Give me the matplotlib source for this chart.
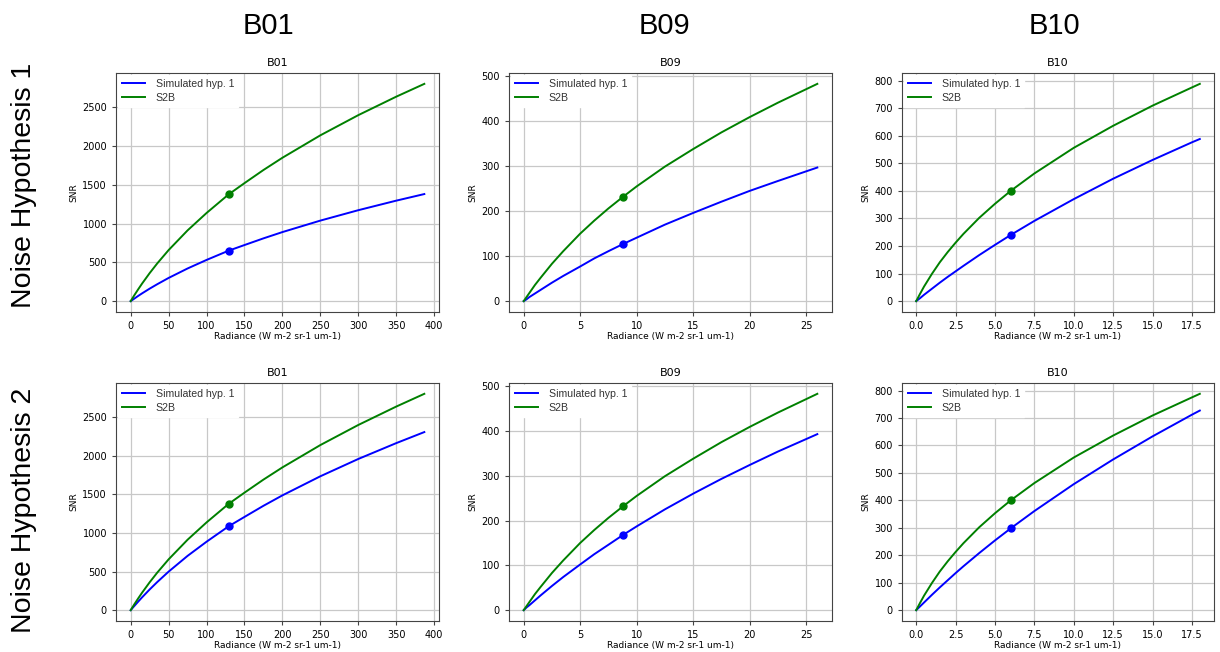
import matplotlib.pyplot as plt

# x samples (radiance) per band
x_b01 = [0, 2.5, 5, 10, 15, 25, 35, 50, 75, 100, 129, 150, 175, 200, 250, 300, 350, 387]
x_b09 = [0, 0.25, 0.5, 1, 1.5, 2.5, 3.5, 5, 6.25, 7.5, 8.8, 10, 12.5, 15, 17.5, 20, 22.5, 26]
x_b10 = [0, 0.25, 0.5, 1, 1.5, 2, 2.5, 3, 4, 5, 6, 7.5, 10, 12.5, 15, 17.5, 18]

# S2B reference SNR
s2b_b01 = [0, 40, 79, 154, 226, 361, 486, 658, 912, 1136, 1375, 1521, 1690, 1848, 2137, 2397, 2635, 2800]
s2b_b09 = [0, 9, 18, 36, 52, 83, 111, 150, 179, 206, 232, 255, 299, 338, 375, 409, 441, 483]
s2b_b10 = [0, 27, 53, 99, 141, 178, 212, 244, 302, 353, 400, 463, 556, 636, 709, 775, 788]

# simulated SNR, hypothesis 1
h1_b01 = [0, 17, 34, 68, 100, 161, 218, 299, 421, 531, 650, 723, 809, 890, 1038, 1172, 1295, 1380]
h1_b09 = [0, 4, 9, 17, 25, 41, 56, 77, 95, 111, 127, 141, 170, 196, 221, 245, 267, 297]
h1_b10 = [0, 11, 23, 45, 67, 88, 108, 128, 167, 204, 240, 291, 370, 444, 512, 576, 588]

# simulated SNR, hypothesis 2
h2_b01 = [0, 29, 57, 112, 166, 268, 364, 499, 703, 886, 1085, 1207, 1351, 1486, 1733, 1957, 2162, 2305]
h2_b09 = [0, 6, 11, 22, 33, 54, 74, 102, 125, 146, 168, 187, 225, 260, 293, 324, 354, 393]
h2_b10 = [0, 14, 28, 56, 83, 109, 135, 160, 208, 254, 298, 361, 459, 549, 633, 712, 727]

# reference points (x, s2b, hyp1, hyp2)
dot_x = [129, 8.8, 6.0]
dot_s2b = [1375, 232, 400]
dot_h1 = [650, 127, 240]
dot_h2 = [1085, 168, 298]

bands = ['B01', 'B09', 'B10']
row_labels = ['Noise Hypothesis 1', 'Noise Hypothesis 2']
xs = [x_b01, x_b09, x_b10]
s2b = [s2b_b01, s2b_b09, s2b_b10]
hyps = [[h1_b01, h1_b09, h1_b10], [h2_b01, h2_b09, h2_b10]]
dots_h = [dot_h1, dot_h2]
xticks = [range(0, 401, 50), range(0, 26, 5), [0, 2.5, 5, 7.5, 10, 12.5, 15, 17.5]]
yticks = [range(0, 2501, 500), range(0, 501, 100), range(0, 801, 100)]

W, H = 1220, 652
fig = plt.figure(figsize=(W / 100, H / 100), dpi=100)

lefts = [116, 509, 902]
rights = [439, 832, 1214]
tops = [73, 383]
bottoms = [312, 621]

for r in range(2):
    for c in range(3):
        ax = fig.add_axes([lefts[c] / W, 1 - bottoms[r] / H,
                           (rights[c] - lefts[c]) / W, (bottoms[r] - tops[r]) / H])
        ax.plot(xs[c], hyps[r][c], color='blue', lw=1.4, label='Simulated hyp. 1')
        ax.plot(xs[c], s2b[c], color='green', lw=1.4, label='S2B')
        ax.plot(dot_x[c], dot_s2b[c], 'o', color='green', ms=5)
        ax.plot(dot_x[c], dots_h[r][c], 'o', color='blue', ms=5)
        ax.set_xticks(list(xticks[c]))
        ax.set_yticks(list(yticks[c]))
        ax.grid(True, color='#c8c8c8', lw=0.9)
        ax.set_axisbelow(True)
        ax.tick_params(labelsize=7, length=3, color='#444444')
        for s in ax.spines.values():
            s.set_color('#444444')
        ax.set_title(bands[c], fontsize=8, pad=5)
        ax.set_xlabel('Radiance (W m-2 sr-1 um-1)', fontsize=6.5, labelpad=1)
        ax.set_ylabel('SNR', fontsize=6.5, labelpad=3)
        leg = ax.legend(loc='upper left', frameon=True, fancybox=False,
                        prop={'family': 'Liberation Sans', 'size': 7.6},
                        borderaxespad=0.2, handlelength=2.2, handletextpad=1.0,
                        labelspacing=0.4, borderpad=0.35)
        leg.get_frame().set_edgecolor('white')
        leg.get_frame().set_alpha(1)
        for t in leg.get_texts():
            t.set_color('#333333')

col_x = [268, 664, 1054]
for c, b in enumerate(bands):
    fig.text(col_x[c] / W, 1 - 26 / H, b, ha='center', va='center',
             fontsize=21, family='Liberation Sans')

row_y = [185, 510]
for r, lab in enumerate(row_labels):
    fig.text(24 / W, 1 - row_y[r] / H, lab, rotation=90, ha='center', va='center',
             fontsize=20.5, family='Liberation Sans')

fig.savefig('out.png', dpi=100)
